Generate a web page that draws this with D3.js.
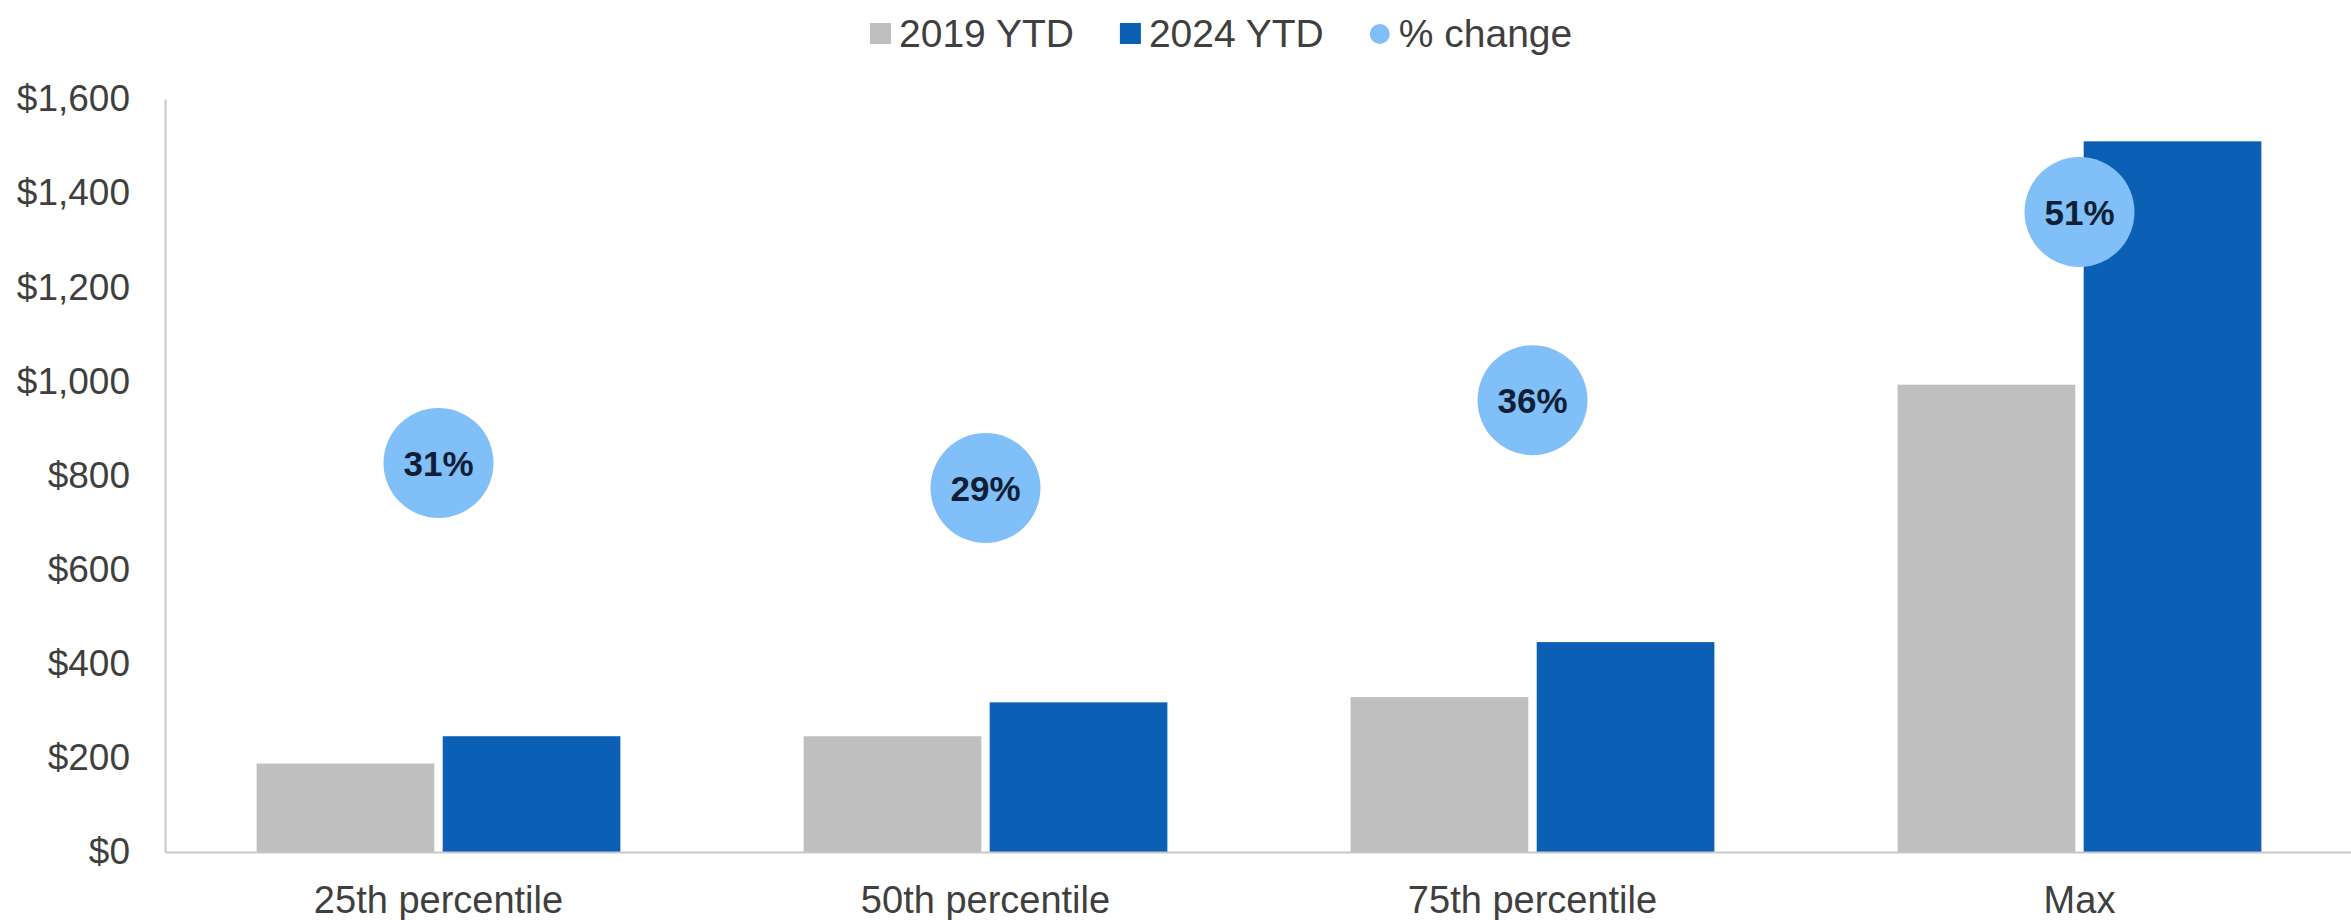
<!DOCTYPE html>
<html>
<head>
<meta charset="utf-8">
<script src="https://cdn.jsdelivr.net/npm/d3@7"></script>
<style>
  html, body { margin: 0; padding: 0; background: #ffffff; }
  svg { display: block; font-family: "Liberation Sans", Arial, Helvetica, sans-serif; }
</style>
</head>
<body>
<svg id="chart" width="2351" height="920"></svg>
<script>
// Percentile buckets shown along the x axis
const categories = ["25th percentile", "50th percentile", "75th percentile", "Max"];
// Series names (legend order)
const seriesNames = ["2019 YTD", "2024 YTD", "% change"];
// Dollar values per bucket
const values2019 = [188, 246, 329, 993];
const values2024 = [246, 318, 446, 1510];
// Percentage change per bucket
const pctChange = [31, 29, 36, 51];
// Left axis tick values
const yTicks = [0, 200, 400, 600, 800, 1000, 1200, 1400, 1600];

const plot = { left: 165, right: 2353, top: 99, bottom: 852 };

const colors = { "2019 YTD": "#bfbfbf", "2024 YTD": "#0b5fb4", "% change": "#80bff7" };
const textColor = "#3f3f3f";
const axisColor = "#c8c8c8";

const svg = d3.select("#chart");

// Scales
const x0 = d3.scaleBand()
  .domain(categories)
  .range([plot.left, plot.right])
  .paddingInner(0.335)
  .paddingOuter(0.1675);

const x1 = d3.scaleBand()
  .domain(["2019 YTD", "2024 YTD"])
  .range([0, x0.bandwidth()])
  .paddingInner(0.045);

const y = d3.scaleLinear().domain([0, 1600]).range([plot.bottom, plot.top]);
// Secondary (hidden) scale for the percentage bubbles
const y2 = d3.scaleLinear().domain([0, 60]).range([plot.bottom, plot.top]);

// Rows built from the arrays above
const rows = categories.map((c, i) => ({
  cat: c,
  bars: [
    { key: "2019 YTD", value: values2019[i] },
    { key: "2024 YTD", value: values2024[i] }
  ],
  pct: pctChange[i]
}));

// Left axis
const yAxis = d3.axisLeft(y)
  .tickValues(yTicks)
  .tickSizeInner(0)
  .tickSizeOuter(0)
  .tickPadding(35)
  .tickFormat(d => "$" + d3.format(",")(d));

const gy = svg.append("g")
  .attr("transform", `translate(${plot.left},0)`)
  .call(yAxis);
gy.select(".domain").attr("stroke", axisColor).attr("stroke-width", 2);
gy.selectAll("text")
  .attr("fill", textColor)
  .style("font-size", "37px");

// Bars
const groups = svg.append("g")
  .selectAll("g")
  .data(rows)
  .join("g")
  .attr("transform", d => `translate(${x0(d.cat)},0)`);

groups.selectAll("rect")
  .data(d => d.bars)
  .join("rect")
  .attr("x", d => x1(d.key))
  .attr("y", d => y(d.value))
  .attr("width", x1.bandwidth())
  .attr("height", d => y(0) - y(d.value))
  .attr("fill", d => colors[d.key]);

// Bottom axis (drawn after bars so the baseline sits on top)
const xAxis = d3.axisBottom(x0)
  .tickSizeInner(0)
  .tickSizeOuter(0)
  .tickPadding(34);

const gx = svg.append("g")
  .attr("transform", `translate(0,${plot.bottom})`)
  .call(xAxis);
gx.select(".domain").attr("stroke", axisColor).attr("stroke-width", 2);
gx.selectAll("text")
  .attr("fill", textColor)
  .style("font-size", "38px");

// Percentage-change bubbles
const bubbles = svg.append("g")
  .selectAll("g")
  .data(rows)
  .join("g")
  .attr("transform", d => `translate(${x0(d.cat) + x0.bandwidth() / 2},${y2(d.pct)})`);

bubbles.append("circle")
  .attr("r", 55)
  .attr("fill", colors["% change"]);

bubbles.append("text")
  .attr("text-anchor", "middle")
  .attr("dy", "0.36em")
  .attr("fill", "#0f1f38")
  .style("font-size", "35px")
  .style("font-weight", "bold")
  .text(d => d.pct + "%");

// Legend
const legend = svg.append("g").attr("transform", "translate(870,0)");
let cursor = 0;
seriesNames.forEach(name => {
  const item = legend.append("g").attr("transform", `translate(${cursor},0)`);
  if (name === "% change") {
    item.append("circle").attr("cx", 10).attr("cy", 34).attr("r", 10).attr("fill", colors[name]);
  } else {
    item.append("rect").attr("x", 0).attr("y", 23).attr("width", 21).attr("height", 21).attr("fill", colors[name]);
  }
  const t = item.append("text")
    .attr("x", 29)
    .attr("y", 47)
    .attr("fill", textColor)
    .style("font-size", "39px")
    .text(name);
  cursor += 29 + t.node().getComputedTextLength() + 46;
});
</script>
</body>
</html>
